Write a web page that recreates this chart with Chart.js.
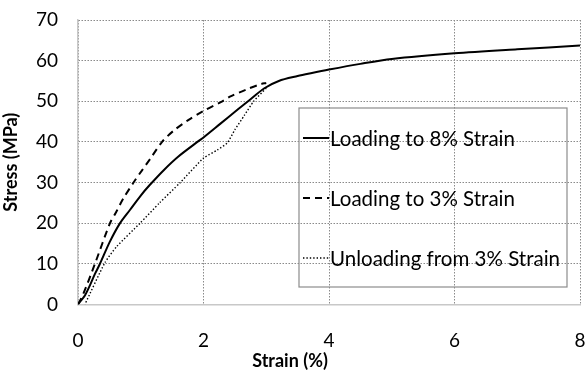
<!DOCTYPE html>
<html>
<head>
<meta charset="utf-8">
<script src="https://cdn.jsdelivr.net/npm/chart.js@4"></script>
<style>
  html, body { margin: 0; padding: 0; background: #fff; }
  #wrap { width: 585px; height: 374px; }
</style>
</head>
<body>
<div id="wrap"><canvas id="stressChart"></canvas></div>
<script>
// strain (%) / stress (MPa)
const load8Strain = [0, 0.06, 0.11, 0.19, 0.27, 0.35, 0.51, 0.67, 0.83, 1.0, 1.15, 1.37, 1.6, 1.93, 2.0, 2.27, 2.54, 2.75, 2.97, 3.2, 3.5, 3.71, 4.0, 4.5, 5.0, 6.0, 7.0, 8.0];
const load8Stress = [0, 1.2, 2.2, 4.7, 7.5, 10, 15.5, 20, 23.3, 26.8, 29.5, 33.1, 36.4, 40.3, 41.1, 44.5, 47.9, 50.5, 53.2, 55, 56.2, 56.9, 57.8, 59.2, 60.4, 61.8, 62.8, 63.7];

const load3Strain = [0, 0.085, 0.27, 0.51, 0.6, 0.72, 0.885, 1.02, 1.15, 1.34, 1.52, 1.75, 2.0, 2.3, 2.43, 2.7, 2.91, 3.0];
const load3Stress = [0, 2.6, 10, 20, 22.5, 26, 30, 33, 35.8, 40, 42.7, 45.3, 47.6, 50, 51.2, 53, 54.2, 54.5];

const unloadStrain = [3.0, 2.8, 2.65, 2.5, 2.38, 2.22, 2.0, 1.63, 1.3, 0.99, 0.62, 0.43, 0.11];
const unloadStress = [53.2, 50, 46.5, 43, 39.8, 38, 36, 30, 25, 20, 14.3, 10.3, 0];

const seriesNames = ["Loading to 8% Strain", "Loading to 3% Strain", "Unloading from 3% Strain"];
const xTicks = [0, 2, 4, 6, 8];
const yTicks = [0, 10, 20, 30, 40, 50, 60, 70];

const toPoints = (xs, ys) => xs.map((x, i) => ({ x: x, y: ys[i] }));

const FONT = "Lato";

// legend box sitting inside the plot, like the original
const boxLegend = {
  id: "boxLegend",
  afterDraw(chart) {
    const ctx = chart.ctx;
    const a = chart.chartArea;
    const left = a.left + 221, top = a.top + 88, w = 268, h = 179;
    ctx.save();
    ctx.strokeStyle = "#8c8c8c";
    ctx.lineWidth = 1.2;
    ctx.strokeRect(left, top, w, h);
    ctx.font = "20.5px " + FONT;
    ctx.fillStyle = "#000";
    ctx.textBaseline = "middle";
    chart.data.datasets.forEach((ds, i) => {
      const y = top + 30 + i * 60;
      ctx.beginPath();
      ctx.strokeStyle = "#000";
      ctx.lineWidth = ds.borderWidth;
      ctx.setLineDash(ds.borderDash || []);
      ctx.moveTo(left + 4, y);
      ctx.lineTo(left + 30, y);
      ctx.stroke();
      ctx.setLineDash([]);
      ctx.fillText(ds.label, left + 31, y + 1);
    });
    ctx.restore();
  }
};

new Chart(document.getElementById("stressChart"), {
  type: "scatter",
  data: {
    datasets: [
      {
        label: seriesNames[0],
        data: toPoints(load8Strain, load8Stress),
        showLine: true,
        borderColor: "#000",
        borderWidth: 2,
        pointRadius: 0,
        tension: 0.3,
      },
      {
        label: seriesNames[1],
        data: toPoints(load3Strain, load3Stress),
        showLine: true,
        borderColor: "#000",
        borderWidth: 2,
        borderDash: [7, 5],
        pointRadius: 0,
        tension: 0.3,
      },
      {
        label: seriesNames[2],
        data: toPoints(unloadStrain, unloadStress),
        showLine: true,
        borderColor: "#000",
        borderWidth: 1.4,
        borderDash: [1.4, 2],
        pointRadius: 0,
        tension: 0.2,
      },
    ],
  },
  options: {
    responsive: true,
    maintainAspectRatio: false,
    animation: false,
    layout: { padding: { top: 20, right: 5, left: 0, bottom: 2 } },
    plugins: {
      legend: { display: false },
      tooltip: { enabled: false },
      title: {
        display: true,
        position: "bottom",
        text: "Strain (%)",
        color: "#000",
        font: { family: FONT, size: 18, weight: "bold" },
        padding: { top: 0, bottom: 0 },
      },
    },
    scales: {
      x: {
        type: "linear",
        min: 0,
        max: 8,
        afterBuildTicks: (s) => { s.ticks = xTicks.map(v => ({ value: v })); },
        afterFit: (s) => { s.height = 46; s.paddingLeft = 0; s.paddingRight = 0; },
        ticks: { color: "#000", font: { family: FONT, size: 19 }, padding: 25 },
        grid: {
          color: "#8a8a8a",
          lineWidth: 1,
          drawTicks: false,
        },
        border: { display: true, color: "#c8c8c8", width: 1.5, dash: [1.5, 1.5] },
      },
      y: {
        type: "linear",
        min: 0,
        max: 70,
        afterBuildTicks: (s) => { s.ticks = yTicks.map(v => ({ value: v })); },
        afterFit: (s) => { s.width = 78; s.paddingTop = 0; s.paddingBottom = 0; },
        ticks: { color: "#000", font: { family: FONT, size: 19 }, padding: 20 },
        title: {
          display: true,
          text: "Stress (MPa)",
          color: "#000",
          font: { family: FONT, size: 18, weight: "bold" },
          padding: { top: 0, bottom: 0 },
        },
        grid: {
          color: "#8a8a8a",
          lineWidth: 1,
          drawTicks: false,
        },
        border: { display: true, color: "#c8c8c8", width: 1.5, dash: [1.5, 1.5] },
      },
    },
  },
  plugins: [boxLegend],
});
</script>
</body>
</html>
